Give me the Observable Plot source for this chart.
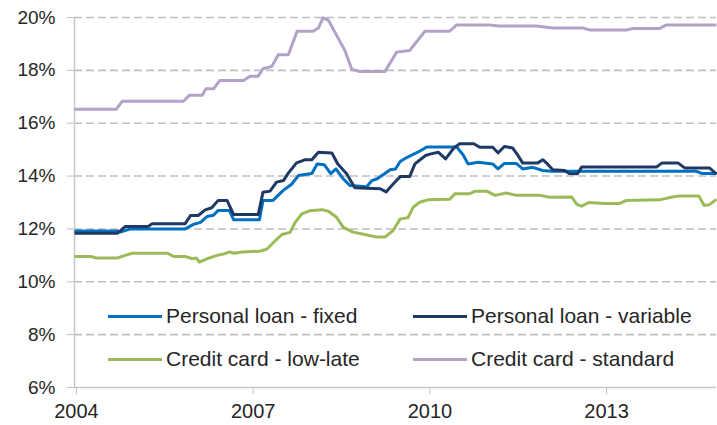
<!DOCTYPE html>
<html>
<head>
<meta charset="utf-8">
<script src="https://cdn.jsdelivr.net/npm/d3@7"></script>
<script src="https://cdn.jsdelivr.net/npm/@observablehq/plot@0.6"></script>
<style>
  html, body { margin: 0; padding: 0; background: #fff; }
  #wrap { position: relative; width: 717px; height: 425px; font-family: "Liberation Sans", Arial, sans-serif; }
  .leg { position: absolute; display: flex; align-items: center; font-size: 21px; color: #262626; white-space: nowrap; }
  .leg .sw { width: 54px; height: 3px; margin-right: 4px; }
</style>
</head>
<body>
<div id="wrap"></div>
<script>
// Series names and colours
const seriesNames = ["Personal loan - fixed", "Personal loan - variable", "Credit card - low-late", "Credit card - standard"];
const seriesColors = ["#0070C0", "#1F3864", "#9BBB59", "#B3A2C7"];

// [year (decimal), rate %]
const fixedLoan = [[2004.0,11.92],[2004.73,11.92],[2004.78,11.88],[2004.95,12.0],[2005.88,12.0],[2006.02,12.17],[2006.14,12.25],[2006.25,12.47],[2006.36,12.52],[2006.44,12.70],[2006.63,12.70],[2006.7,12.35],[2007.14,12.35],[2007.2,13.08],[2007.37,13.08],[2007.54,13.45],[2007.69,13.7],[2007.8,14.02],[2008.03,14.1],[2008.12,14.46],[2008.24,14.43],[2008.35,14.09],[2008.44,14.27],[2008.56,13.9],[2008.68,13.64],[2008.96,13.6],[2009.05,13.83],[2009.14,13.9],[2009.24,14.05],[2009.36,14.24],[2009.45,14.27],[2009.53,14.55],[2009.64,14.7],[2009.75,14.82],[2009.86,14.94],[2009.98,15.1],[2010.49,15.1],[2010.6,14.8],[2010.68,14.46],[2010.85,14.52],[2011.1,14.46],[2011.19,14.27],[2011.3,14.48],[2011.5,14.48],[2011.61,14.27],[2011.78,14.33],[2011.95,14.21],[2012.1,14.18],[2014.56,14.18],[2014.65,14.1],[2014.9,14.1]];
const variableLoan = [[2004.0,11.84],[2004.73,11.84],[2004.86,12.09],[2005.25,12.09],[2005.32,12.2],[2005.88,12.2],[2005.97,12.51],[2006.1,12.51],[2006.22,12.72],[2006.33,12.8],[2006.44,13.08],[2006.59,13.08],[2006.7,12.55],[2007.12,12.55],[2007.2,13.39],[2007.32,13.43],[2007.43,13.77],[2007.55,13.83],[2007.63,14.11],[2007.77,14.5],[2007.92,14.62],[2008.03,14.62],[2008.14,14.9],[2008.37,14.87],[2008.47,14.46],[2008.62,14.09],[2008.76,13.56],[2009.19,13.52],[2009.29,13.4],[2009.41,13.7],[2009.53,13.98],[2009.69,13.98],[2009.78,14.46],[2009.96,14.78],[2010.05,14.84],[2010.18,14.9],[2010.3,14.65],[2010.44,15.06],[2010.54,15.22],[2010.78,15.22],[2010.88,15.09],[2011.1,15.09],[2011.19,14.88],[2011.3,15.12],[2011.44,15.06],[2011.53,14.78],[2011.61,14.49],[2011.86,14.49],[2011.95,14.62],[2012.03,14.46],[2012.12,14.24],[2012.32,14.21],[2012.4,14.1],[2012.54,14.09],[2012.61,14.34],[2013.88,14.34],[2013.97,14.49],[2014.25,14.49],[2014.36,14.31],[2014.78,14.31],[2014.9,14.08]];
const lowLateCard = [[2004.0,10.96],[2004.27,10.96],[2004.37,10.9],[2004.73,10.9],[2004.86,11.0],[2004.98,11.08],[2005.58,11.08],[2005.68,10.96],[2005.88,10.96],[2006.0,10.87],[2006.07,10.9],[2006.12,10.74],[2006.25,10.87],[2006.42,11.0],[2006.53,11.05],[2006.64,11.13],[2006.7,11.08],[2006.85,11.13],[2007.15,11.16],[2007.27,11.24],[2007.41,11.56],[2007.52,11.79],[2007.66,11.87],[2007.75,12.26],[2007.86,12.57],[2008.0,12.69],[2008.2,12.73],[2008.31,12.67],[2008.45,12.44],[2008.56,12.07],[2008.73,11.88],[2008.93,11.79],[2009.13,11.69],[2009.27,11.69],[2009.41,11.94],[2009.53,12.38],[2009.66,12.42],[2009.75,12.82],[2009.86,13.01],[2010.0,13.1],[2010.37,13.12],[2010.46,13.33],[2010.71,13.33],[2010.8,13.43],[2011.0,13.43],[2011.14,13.27],[2011.33,13.36],[2011.5,13.27],[2011.9,13.27],[2012.07,13.2],[2012.44,13.21],[2012.53,12.93],[2012.61,12.86],[2012.73,13.0],[2013.0,12.96],[2013.25,12.96],[2013.37,13.08],[2013.93,13.1],[2014.13,13.2],[2014.27,13.25],[2014.6,13.25],[2014.69,12.89],[2014.78,12.92],[2014.9,13.12]];
const standardCard = [[2004.0,16.53],[2004.71,16.53],[2004.81,16.83],[2005.85,16.83],[2005.95,17.06],[2006.17,17.06],[2006.23,17.3],[2006.36,17.3],[2006.47,17.62],[2006.87,17.62],[2006.98,17.78],[2007.12,17.78],[2007.2,18.06],[2007.35,18.15],[2007.46,18.59],[2007.63,18.59],[2007.78,19.48],[2008.05,19.48],[2008.14,19.6],[2008.22,19.99],[2008.31,19.9],[2008.59,18.75],[2008.71,18.03],[2008.85,17.96],[2009.27,17.96],[2009.47,18.69],[2009.69,18.75],[2009.95,19.48],[2010.37,19.48],[2010.49,19.72],[2011.05,19.72],[2011.2,19.68],[2011.84,19.68],[2012.12,19.6],[2012.63,19.6],[2012.75,19.53],[2013.37,19.53],[2013.47,19.58],[2013.93,19.58],[2014.05,19.72],[2014.9,19.72]];

const yTicks = [6, 8, 10, 12, 14, 16, 18, 20];
const xTicks = [2004, 2007, 2010, 2013];

const allSeries = [fixedLoan, variableLoan, lowLateCard, standardCard];
// draw order: standard, low-late, fixed, variable
const drawOrder = [3, 2, 0, 1];
const rows = drawOrder.flatMap(i => allSeries[i].map(([x, y]) => ({x, y, s: seriesNames[i]})));

const chart = Plot.plot({
  width: 717,
  height: 425,
  marginLeft: 74,
  marginRight: 1,
  marginTop: 17,
  marginBottom: 38,
  style: {fontFamily: "'Liberation Sans', Arial, sans-serif", color: "#262626", background: "#fff"},
  x: {domain: [2004, 2014.9]},
  y: {domain: [6, 20]},
  color: {domain: seriesNames, range: seriesColors},
  marks: [
    Plot.gridY(yTicks.filter(d => d > 6), {stroke: "#bfbfbf", strokeOpacity: 1, strokeWidth: 1.6, strokeDasharray: "8,4"}),
    Plot.ruleY([6], {stroke: "#c8c8c8", strokeWidth: 1.5}),
    Plot.ruleX([2004], {stroke: "#c8c8c8", strokeWidth: 1.5}),
    Plot.axisY(yTicks, {tickFormat: d => d + "%", tickSize: 7, tickPadding: 12, fontSize: 19, stroke: "#bfbfbf", fill: "#262626", label: null}),
    Plot.axisX(xTicks, {tickFormat: d => String(d), tickSize: 7, tickPadding: 9, fontSize: 20, stroke: "#bfbfbf", fill: "#262626", label: null, dx: 2}),
    Plot.line(rows, {x: "x", y: "y", z: "s", stroke: "s", strokeWidth: 3, strokeLinejoin: "round", strokeLinecap: "butt"})
  ]
});

const wrap = document.getElementById("wrap");
wrap.appendChild(chart);

// legend overlay (two columns, two rows)
const legPos = [
  {left: 108, top: 316}, {left: 413, top: 316},
  {left: 108, top: 359}, {left: 413, top: 359}
];
seriesNames.forEach((name, i) => {
  const d = document.createElement("div");
  d.className = "leg";
  d.style.left = legPos[i].left + "px";
  d.style.top = (legPos[i].top - 12) + "px";
  d.style.height = "24px";
  const sw = document.createElement("span");
  sw.className = "sw";
  sw.style.background = seriesColors[i];
  const t = document.createElement("span");
  t.textContent = name;
  d.appendChild(sw);
  d.appendChild(t);
  wrap.appendChild(d);
});
</script>
</body>
</html>
